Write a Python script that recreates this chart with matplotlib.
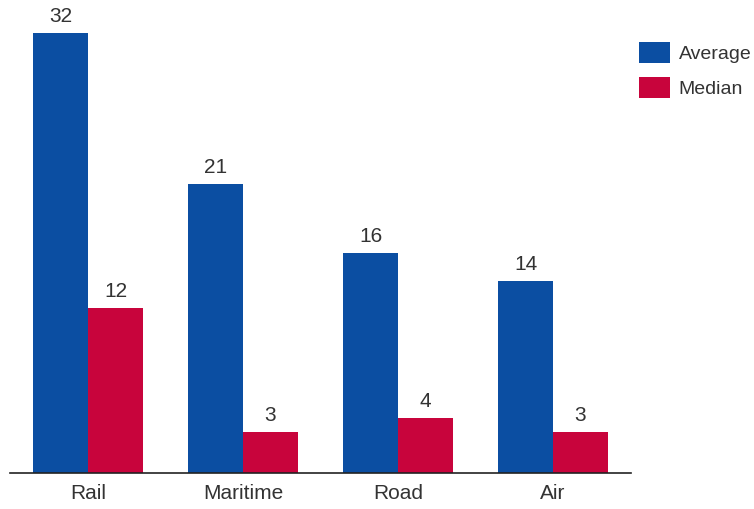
import matplotlib.pyplot as plt
import numpy as np

plt.rcParams['font.family'] = ['Liberation Sans', 'DejaVu Sans']

# data
modes = ['Rail', 'Maritime', 'Road', 'Air']
average = [32, 21, 16, 14]
median = [12, 3, 4, 3]

blue = '#0b4ea2'
red = '#c8043c'
txt = '#333333'

fig = plt.figure(figsize=(7.54, 5.09), dpi=100)
# axes in pixels: x 10..631, baseline at y=473 (from top)
ax = fig.add_axes([10 / 754, 36 / 509, 621 / 754, 440 / 509])

x = np.arange(len(modes))
w = 55 / 155
b1 = ax.bar(x - w / 2, average, w, color=blue, label='Average')
b2 = ax.bar(x + w / 2, median, w, color=red, label='Median')

for bars in (b1, b2):
    for r in bars:
        ax.annotate(str(int(r.get_height())),
                    (r.get_x() + r.get_width() / 2, r.get_height()),
                    xytext=(0, 5), textcoords='offset points',
                    ha='center', va='bottom', fontsize=15, color=txt,
                    annotation_clip=False)

ax.set_xlim(-0.503, 3.503)
ax.set_ylim(0, 32)
ax.set_xticks(x)
ax.set_xticklabels(modes, fontsize=15, color=txt)
ax.tick_params(axis='x', length=0, pad=8)
ax.set_yticks([])
for s in ['top', 'right', 'left']:
    ax.spines[s].set_visible(False)
ax.spines['bottom'].set_color('#222222')
ax.spines['bottom'].set_linewidth(1.2)

fig.legend(loc='upper left', bbox_to_anchor=(639 / 754, 1 - 42 / 509),
           frameon=False, fontsize=14, handlelength=1.6, handleheight=1.25,
           handletextpad=0.45, labelspacing=0.75, borderpad=0, borderaxespad=0,
           labelcolor=txt)

fig.savefig('out.png', dpi=100)
